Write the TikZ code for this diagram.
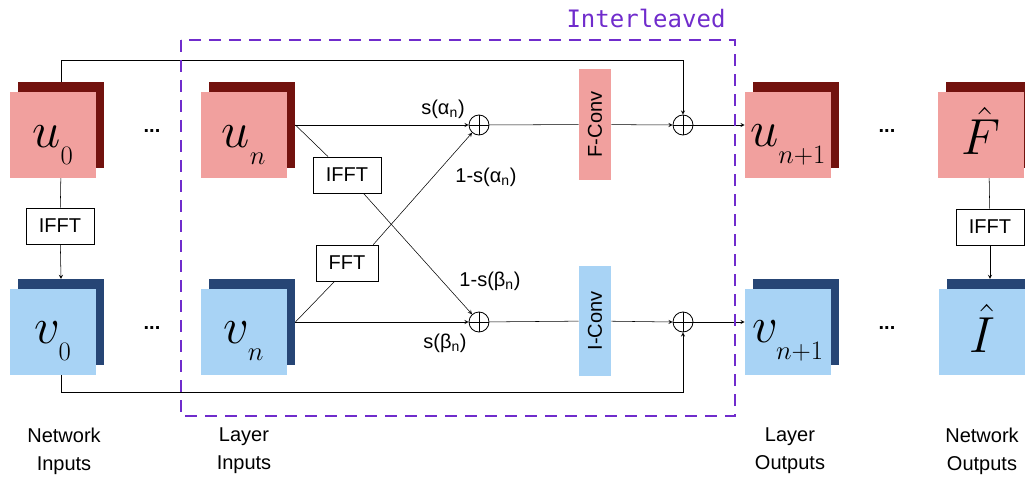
\RequirePackage{fix-cm}
\documentclass[tikz,border=0pt]{standalone}
\usepackage[no-math]{fontspec}
\setmainfont{Liberation Sans}
\newfontfamily\monofont{DejaVu Sans Mono}
\usetikzlibrary{backgrounds,calc}
\DeclareMathSizes{38}{38}{20}{15}
\newcommand{\tvar}[2]{$#1_{\raisebox{-7pt}{$\scriptstyle #2$}}$}
\definecolor{pinkfill}{RGB}{241,160,158}
\definecolor{darkred}{RGB}{114,18,14}
\definecolor{skyfill}{RGB}{168,211,245}
\definecolor{navyback}{RGB}{38,69,117}
\definecolor{violet}{RGB}{112,44,204}
\begin{document}
\begin{tikzpicture}[x=0.75pt, y=-0.75pt, >=stealth, line width=0.6pt,
    every node/.style={font=\fontsize{15}{21}\selectfont},
    tensor/.style={minimum width=64.5pt, minimum height=64pt, inner sep=0pt},
    ufront/.style={tensor, fill=pinkfill}, uback/.style={tensor, fill=darkred},
    vfront/.style={tensor, fill=skyfill}, vback/.style={tensor, fill=navyback},
    symtext/.style={font=\fontsize{38}{38}\selectfont, inner sep=0pt},
    fftbox/.style={draw, fill=white, minimum width=51pt, minimum height=27pt, inner sep=0pt},
    convbox/.style={minimum width=83pt, minimum height=24pt, inner sep=0pt, rotate=90},
    sumnode/.style={circle, draw, fill=white, minimum size=15pt, inner sep=0pt,
      path picture={\draw (path picture bounding box.north) -- (path picture bounding box.south)
        (path picture bounding box.west) -- (path picture bounding box.east);}}]
	\useasboundingbox (0,0) rectangle (1025,478);
	
	% 1. 张量方块 (后层深色, 前层浅色)
	\node[uback] (u0b) at (61,125) {};  \node[ufront] (u0) at (53,135) {};
	\node[uback] (unb) at (252,125) {}; \node[ufront] (un) at (244,135) {};
	\node[uback] (u1b) at (796,125) {}; \node[ufront] (u1) at (788,135) {};
	\node[uback] (Fhb) at (989,125) {}; \node[ufront] (Fh) at (981,135) {};
	\node[vback] (v0b) at (61,322) {};  \node[vfront] (v0) at (53,332) {};
	\node[vback] (vnb) at (252,322) {}; \node[vfront] (vn) at (244,332) {};
	\node[vback] (v1b) at (796,322) {}; \node[vfront] (v1) at (788,332) {};
	\node[vback] (Ihb) at (990,322) {}; \node[vfront] (Ih) at (982,332) {};
	
	% 方块内符号
	\node[symtext] (tu0) at (53,145) {\tvar{u}{0}};
	\node[symtext] (tun) at (244,145) {\tvar{u}{n}};
	\node[symtext] (tu1) at (788,145) {\tvar{u}{n+1}};
	\node[symtext] (tF) at (981,131) {$\hat{F}$};
	\node[symtext] (tv0) at (53,341) {\tvar{v}{0}};
	\node[symtext] (tvn) at (244,341) {\tvar{v}{n}};
	\node[symtext] (tv1) at (788,341) {\tvar{v}{n+1}};
	\node[symtext] (tI) at (982,328) {$\hat{I}$};
	
	% 省略号
	\node (d1) at (152,131) {\textbf{...}};
	\node (d2) at (152,328) {\textbf{...}};
	\node (d3) at (887,131) {\textbf{...}};
	\node (d4) at (887,328) {\textbf{...}};
	
	% 2. 变换框与卷积框
	\node[fftbox] (if0) at (60,226) {IFFT};
	\node[fftbox] (if1) at (990,227) {IFFT};
	\node[fftbox] (ifn) at (347,175) {IFFT};
	\node[fftbox, minimum width=46.5pt] (ffn) at (347,263) {FFT};
	\node[convbox, fill=pinkfill] (fconv) at (595,124.5) {F-Conv};
	\node[convbox, fill=skyfill] (iconv) at (595,321) {I-Conv};
	
	% 求和节点
	\node[sumnode] (p1) at (479,125) {};
	\node[sumnode] (p2) at (479,322) {};
	\node[sumnode] (p3) at (683,125) {};
	\node[sumnode] (p4) at (683,322) {};
	
	% 权重标签
	\node (la1) at (443,109) {s(α\textsubscript{n})};
	\node (la2) at (486,177) {1-s(α\textsubscript{n})};
	\node (lb1) at (490,281) {1-s(β\textsubscript{n})};
	\node (lb2) at (445,343) {s(β\textsubscript{n})};
	
	% 3. 连线 (置于底层, 由方块遮挡)
	\coordinate (tl) at (61,60);
	\coordinate (bl) at (61,392);
	\begin{pgfonlayer}{background}
		\draw[->] (u0b.north) -- (tl) -| (p3.north);
		\draw[->] (v0b.south) -- (bl) -| (p4.south);
		\draw (u0b.south) -- (if0);  \draw[->] (if0) -- (v0b.north);
		\draw (Fhb.south) -- (if1);  \draw[->] (if1) -- (Ihb.north);
		\draw[->] (unb.east) -- (p1.west);
		\draw[->] (vnb.east) -- (p2.west);
		\draw (unb.east) -- (ifn);   \draw[->] (ifn) -- (p2);
		\draw (vnb.east) -- (ffn.236); \draw[->] (ffn.35) -- (p1);
		\draw (p1) -- (fconv);       \draw[->] (fconv) -- (p3.west);
		\draw (p2) -- (iconv);       \draw[->] (iconv) -- (p4.west);
		\draw[->] (p3.east) -- (p3 -| u1.west);
		\draw[->] (p4.east) -- (p4 -| v1.west);
	\end{pgfonlayer}
	
	% 4. 交错区域虚线框
	\draw[violet, line width=2.2pt, dash pattern=on 9pt off 6pt] (181,40) rectangle (735,416);
	\node[violet, font=\monofont\fontsize{18}{18}\selectfont] (inter) at (646,18) {Interleaved};
	
	% 5. 底部说明文字
	\node[align=center] (nin) at (64,451) {Network\\Inputs};
	\node[align=center] (lin) at (244,451) {Layer\\Inputs};
	\node[align=center] (lout) at (790,451) {Layer\\Outputs};
	\node[align=center] (nout) at (982,451) {Network\\Outputs};
\end{tikzpicture}
\end{document}
